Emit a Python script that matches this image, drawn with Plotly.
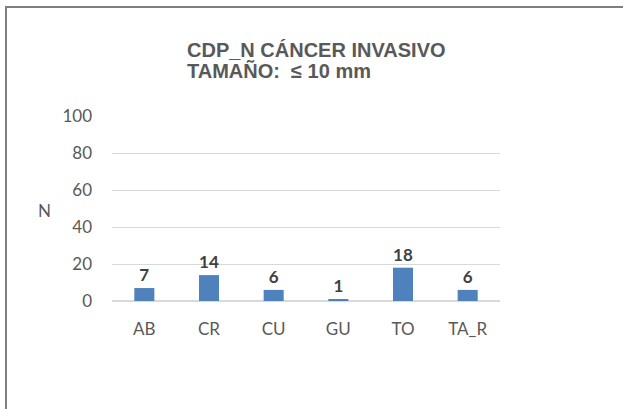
import plotly.graph_objects as go

# Valores
categorias = ['AB', 'CR', 'CU', 'GU', 'TO', 'TA_R']
valores = [7, 14, 6, 1, 18, 6]
ticks_y = [0, 20, 40, 60, 80, 100]
titulo = ['CDP_N CÁNCER INVASIVO', 'TAMAÑO:  ≤ 10 mm']

W, H = 623, 409
L, R, T, B = 112, 123, 116, 108
pw, ph = W - L - R, H - T - B


def px_x(x):
    return (x - L) / pw


def px_y(y):
    return (H - B - y) / ph


gris = '#595959'

fig = go.Figure()
fig.add_trace(go.Bar(
    x=categorias, y=valores,
    marker=dict(color='#4F81BD', line=dict(width=0)),
    width=0.31,
    text=valores, textposition='outside', cliponaxis=False,
    textfont=dict(family='Lato', size=17, color='#404040', weight='bold'),
    hoverinfo='skip',
))

anots = []
for linea, yc in zip(titulo, [50, 71]):
    anots.append(dict(
        text=linea, showarrow=False, xref='paper', yref='paper',
        x=px_x(185), xanchor='left', y=px_y(yc), yanchor='middle',
        font=dict(family='Liberation Sans', size=20, color=gris, weight='bold'),
    ))
anots.append(dict(
    text='N', showarrow=False, xref='paper', yref='paper',
    x=px_x(44), xanchor='center', y=px_y(210), yanchor='middle',
    font=dict(family='Lato', size=17, color=gris),
))

fig.update_layout(
    width=W, height=H,
    margin=dict(l=L, r=R, t=T, b=B),
    paper_bgcolor='white', plot_bgcolor='white',
    showlegend=False,
    font=dict(family='Lato', size=17, color=gris),
    xaxis=dict(
        showgrid=False, showline=False, ticks='', ticklabelstandoff=16,
        tickfont=dict(family='Lato', size=17, color=gris),
    ),
    yaxis=dict(
        range=[0, 100], tickvals=ticks_y, showline=False,
        gridcolor='#D9D9D9', gridwidth=1, zeroline=True,
        zerolinecolor='#D9D9D9', zerolinewidth=1.5,
        ticks='', ticklabelstandoff=19,
        tickfont=dict(family='Lato', size=17, color=gris),
    ),
    annotations=anots,
    # marco del gráfico (solo borde superior e izquierdo visibles)
    shapes=[
        dict(type='line', xref='paper', yref='paper',
             x0=px_x(5), x1=px_x(W), y0=px_y(7), y1=px_y(7),
             line=dict(color='#7F7F7F', width=2)),
        dict(type='line', xref='paper', yref='paper',
             x0=px_x(6), x1=px_x(6), y0=px_y(6), y1=px_y(H),
             line=dict(color='#7F7F7F', width=2)),
    ],
)

fig.write_html(
    'out.html',
    config={'displayModeBar': False},
    post_script="document.body.style.margin='0';document.body.style.overflow='hidden';",
)
